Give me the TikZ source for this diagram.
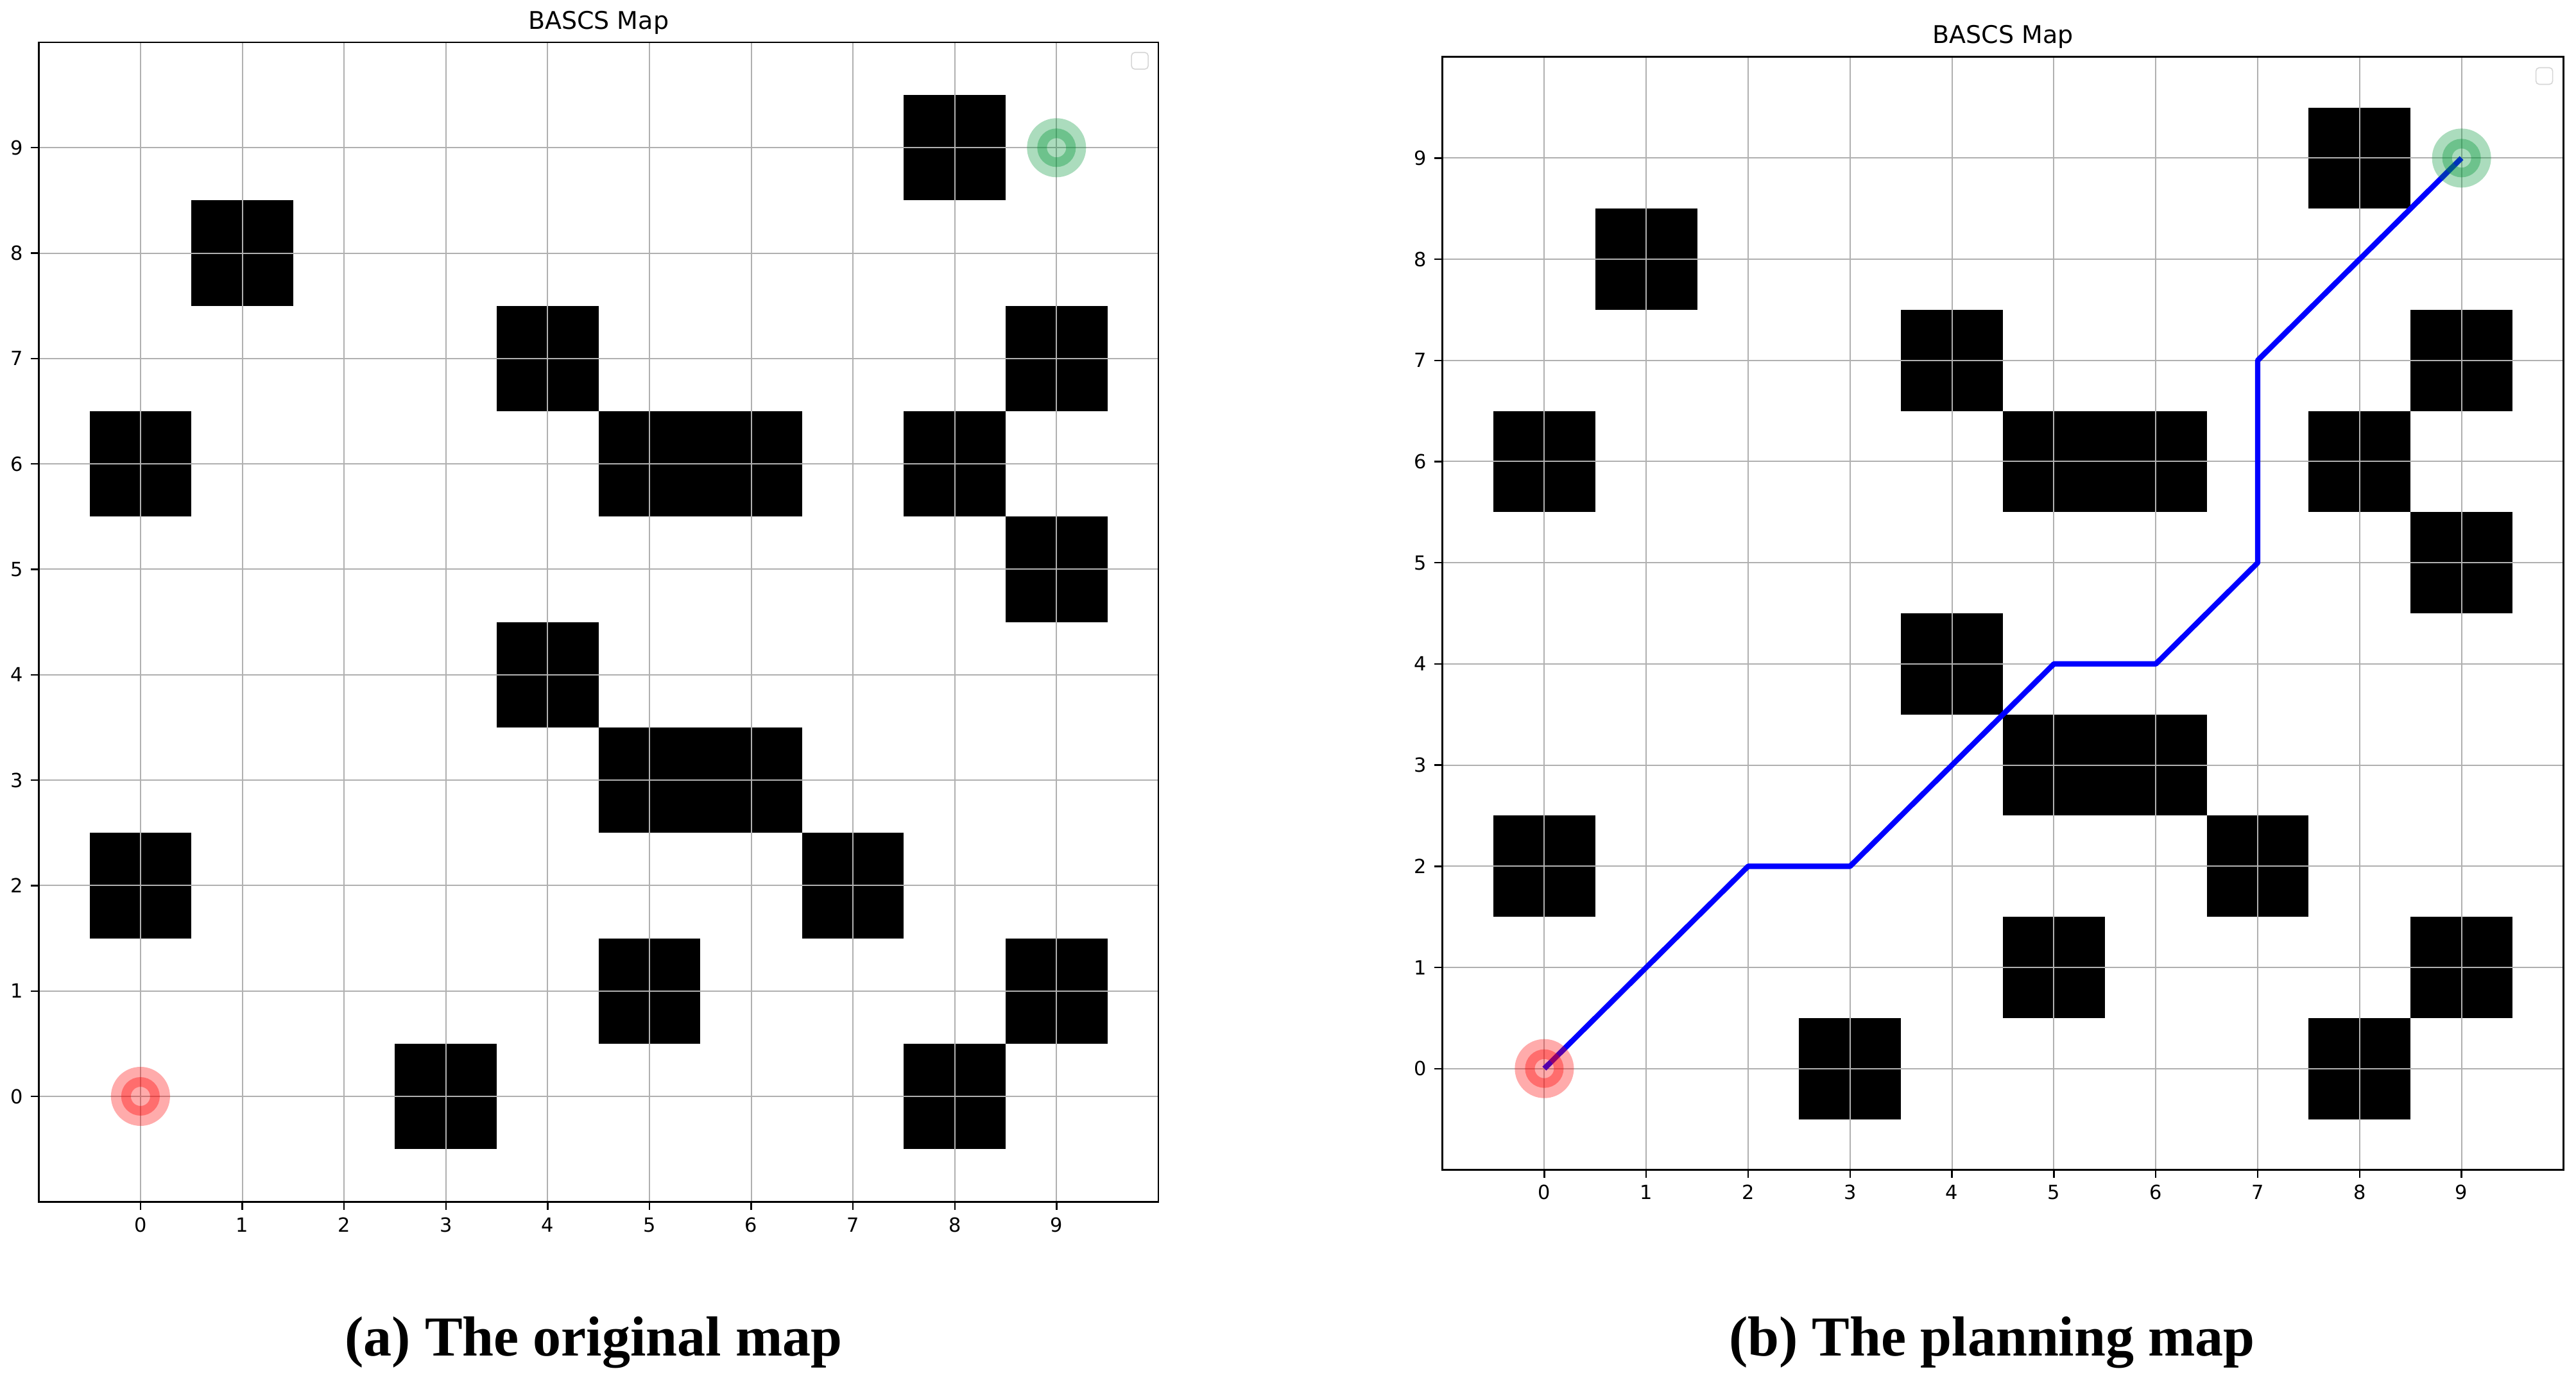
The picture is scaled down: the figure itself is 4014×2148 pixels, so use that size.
\documentclass[tikz,border=0pt]{standalone}
\usepackage{fontspec}
\setmainfont{Liberation Serif}
\newfontfamily\djv{DejaVu Sans}
\definecolor{gridgray}{RGB}{176,176,176}
\definecolor{legendgray}{RGB}{214,214,214}
\definecolor{goalgreen}{RGB}{0,150,55}
\definecolor{startred}{RGB}{255,0,0}
\definecolor{pathblue}{RGB}{0,0,255}
\tikzset{
  gridline/.style={draw=gridgray, line width=0.5pt},
  axframe/.style={draw=black, line width=0.65pt},
  tickmark/.style={draw=black, line width=0.6pt},
  ticklab/.style={font=\djv\fontsize{7.6}{8}\selectfont, inner sep=0pt, text=black},
  titlelab/.style={font=\djv\fontsize{9.5}{11}\selectfont, inner sep=0pt, anchor=base},
  caplab/.style={font=\bfseries\fontsize{22}{26}\selectfont, inner sep=0pt, anchor=base},
  obstacle/.style={fill=black},
  pathline/.style={draw=pathblue, line width=2.1pt, line join=round},
  legendbox/.style={draw=legendgray, fill=white, line width=0.4pt, rounded corners=1.3pt,
                    minimum width=6.5pt, minimum height=6.5pt, inner sep=0pt, anchor=north east},
  markouter/.style={circle, fill=#1, fill opacity=0.33, draw=none, minimum size=23pt, inner sep=0pt},
  markring/.style={circle, draw=#1, draw opacity=0.36, fill=none, line width=3.75pt, minimum size=11.25pt, inner sep=0pt},
}
\newcommand{\obstaclelist}{8/9,1/8,4/7,9/7,0/6,5/6,6/6,8/6,9/5,4/4,5/3,6/3,0/2,7/2,5/1,9/1,3/0,8/0}
\begin{document}
\begin{tikzpicture}[x=0.25pt,y=-0.25pt]
\useasboundingbox (0,0) rectangle (4014,2148);
\fill[white] (0,0) rectangle (4014,2148);

% ---------------- Left plot ----------------
\begin{scope}[shift={(218.9,1709)}]
\begin{scope}[x=39.65pt,y=41.075pt]
  \foreach \cx/\cy in \obstaclelist {
    \fill[obstacle] (\cx-0.5,\cy-0.5) rectangle (\cx+0.5,\cy+0.5);
  }
  \foreach \k in {0,...,9} {
    \draw[gridline] (\k,-1) -- (\k,10);
    \draw[gridline] (-1,\k) -- (10,\k);
    \draw[tickmark] (\k,-1) -- ++(0,-3.1pt);
    \draw[tickmark] (-1,\k) -- ++(-3.1pt,0);
    \node[ticklab, anchor=base] (xlA\k) at ([yshift=-11.8pt]\k,-1) {\k};
    \node[ticklab, anchor=east] (ylA\k) at ([xshift=-6pt]-1,\k) {\k};
  }
  \draw[axframe] (-1,-1) rectangle (10,10);
  \node[legendbox] (legA) at ([xshift=-3.75pt,yshift=-3.75pt]10,10) {};
  \coordinate (startA) at (0,0);
  \coordinate (goalA) at (9,9);
  \node[markouter=startred] (startAo) at (startA) {};
  \node[markring=startred] (startAr) at (startA) {};
  \node[markouter=goalgreen] (goalAo) at (goalA) {};
  \node[markring=goalgreen] (goalAr) at (goalA) {};
  \node[titlelab] (titleA) at ([yshift=5.2pt]4.5,10) {BASCS Map};
\end{scope}
\end{scope}

% ---------------- Right plot ----------------
\begin{scope}[shift={(2406.4,1665.7)}]
\begin{scope}[x=39.7pt,y=39.425pt]
  \foreach \cx/\cy in \obstaclelist {
    \fill[obstacle] (\cx-0.5,\cy-0.5) rectangle (\cx+0.5,\cy+0.5);
  }
  \foreach \k in {0,...,9} {
    \draw[gridline] (\k,-1) -- (\k,10);
    \draw[gridline] (-1,\k) -- (10,\k);
    \draw[tickmark] (\k,-1) -- ++(0,-3.1pt);
    \draw[tickmark] (-1,\k) -- ++(-3.1pt,0);
    \node[ticklab, anchor=base] (xlB\k) at ([yshift=-11.5pt]\k,-1) {\k};
    \node[ticklab, anchor=east] (ylB\k) at ([xshift=-6pt]-1,\k) {\k};
  }
  \draw[axframe] (-1,-1) rectangle (10,10);
  \node[legendbox] (legB) at ([xshift=-4pt,yshift=-4pt]10,10) {};
  \coordinate (startB) at (0,0);
  \coordinate (goalB) at (9,9);
  \draw[pathline] (startB) -- (2,2) -- (3,2) -- (5,4) -- (6,4) -- (7,5) -- (7,7) -- (goalB);
  \node[markouter=startred] (startBo) at (startB) {};
  \node[markring=startred] (startBr) at (startB) {};
  \node[markouter=goalgreen] (goalBo) at (goalB) {};
  \node[markring=goalgreen] (goalBr) at (goalB) {};
  \node[titlelab] (titleB) at ([yshift=5.2pt]4.5,10) {BASCS Map};
\end{scope}
\end{scope}

% ---------------- Captions ----------------
\node[caplab] (capA) at (925,2113) {(a) The original map};
\node[caplab] (capB) at (3104,2113) {(b) The planning map};
\end{tikzpicture}
\end{document}
